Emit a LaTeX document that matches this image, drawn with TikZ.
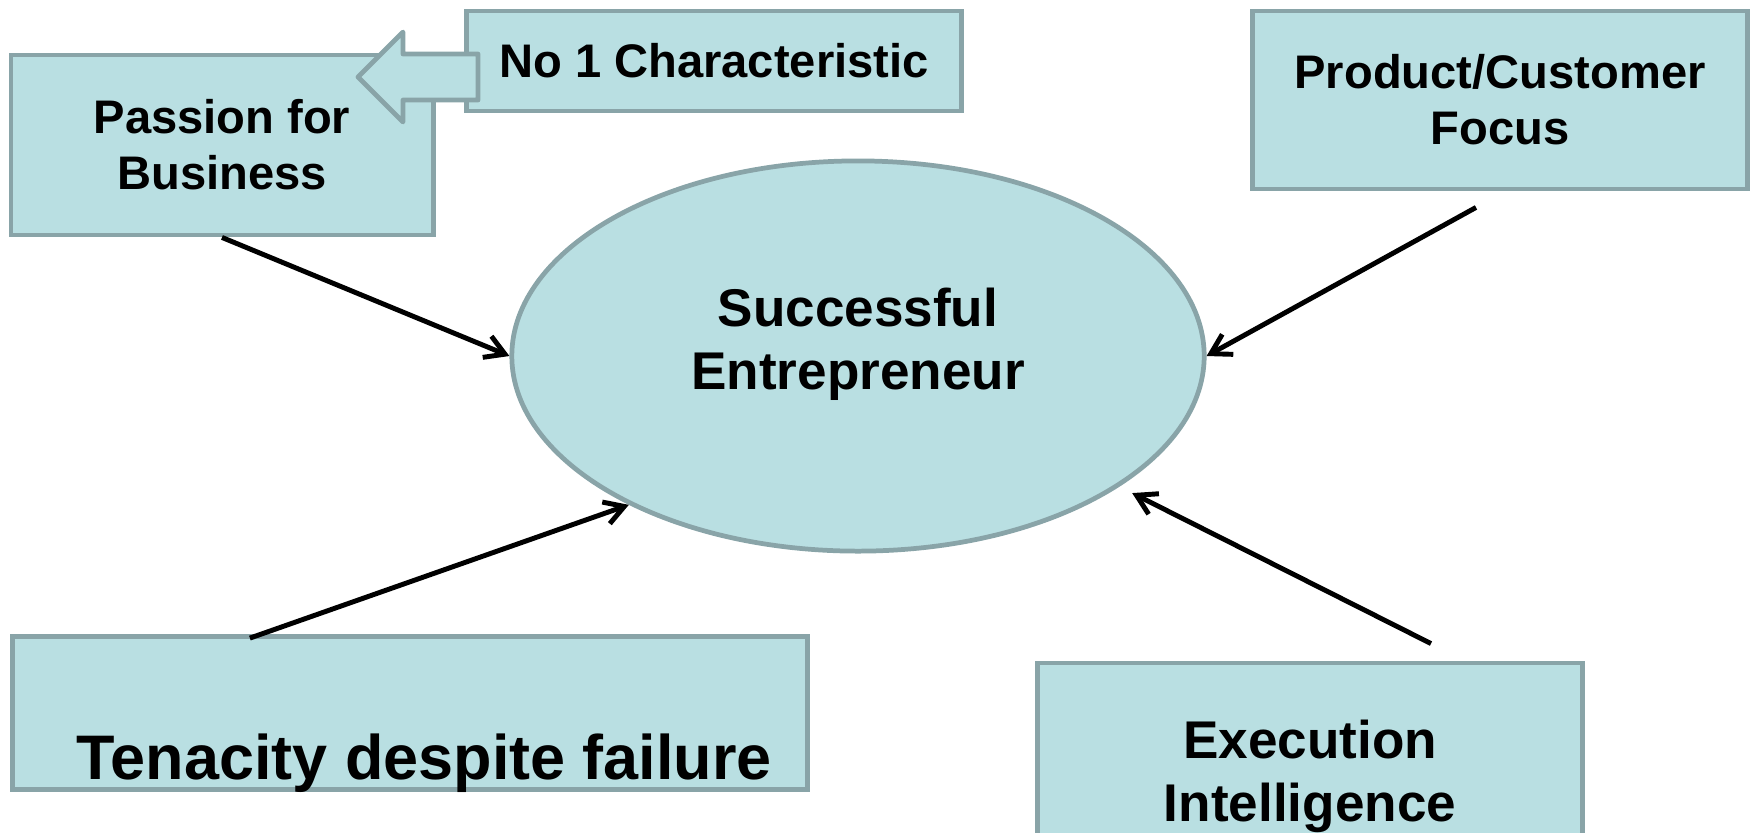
\documentclass[tikz,border=0pt]{standalone}
\usepackage{fontspec}
\setmainfont{Liberation Sans}
\usetikzlibrary{arrows.meta,shapes.geometric}

\definecolor{boxfill}{RGB}{185,223,226}
\definecolor{boxedge}{RGB}{137,164,168}

\tikzset{
  trait/.style={draw=boxedge, fill=boxfill, line width=1.35pt, align=center, inner sep=0pt},
  smalltext/.style={font=\fontsize{13.4}{15.9}\selectfont\bfseries},
  midtext/.style={font=\fontsize{15.1}{17.9}\selectfont\bfseries},
  bigtext/.style={font=\fontsize{17.9}{21}\selectfont\bfseries},
  link/.style={->, line width=1.4pt},
}

\begin{document}
\begin{tikzpicture}[x=0.01cm, y=-0.01cm, >={Straight Barb[length=5.5pt,width=6.5pt]}]
  \useasboundingbox (0,0) rectangle (1758,832);
  \clip (0,0) rectangle (1758,832);

  % boxes round the central ellipse
  \node[trait, smalltext, minimum width=4.22cm, minimum height=1.8cm] (passion) at (222,145) {Passion for\\Business};
  \node[trait, smalltext, minimum width=4.95cm, minimum height=1cm] (first) at (714,61) {No 1 Characteristic};
  \node[trait, smalltext, minimum width=4.95cm, minimum height=1.78cm] (focus) at (1500,100) {Product/Customer\\Focus};
  \node[trait, minimum width=7.95cm, minimum height=1.53cm,
        label={[bigtext, anchor=base, xshift=4.1pt, yshift=-14.2pt]center:Tenacity despite failure}] (tenacity) at (410,713) {};
  \node[trait, midtext, minimum width=5.44cm, minimum height=2.26cm] (execution) at (1310,776) {Execution\\Intelligence};
  \node[trait, ellipse, minimum width=6.92cm, minimum height=3.9cm,
        label={[midtext, align=center, yshift=3.3pt]center:Successful\\Entrepreneur}] (hub) at (858,356) {};

  % block arrow pointing from the No 1 box
  \draw[trait, line join=round] (478,54) -- (403,54) -- (403,32) -- (358,77) -- (403,122) -- (403,100) -- (478,100) -- cycle;

  % connectors into the ellipse
  \draw[link] (passion.south) -- (hub.west);
  \draw[link] ([shift={(-24,16)}]focus.south) -- (hub.east);
  \draw[link] ([shift={(240,4)}]tenacity.north west) -- (hub.213);
  \draw[link] ([shift={(121,-17)}]execution.north) -- ([shift={(15,5)}]hub.333);
\end{tikzpicture}
\end{document}
